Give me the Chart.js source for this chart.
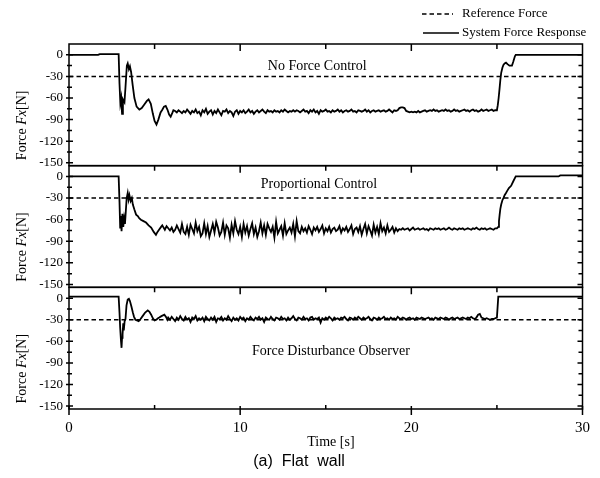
<!DOCTYPE html>
<html>
<head>
<meta charset="utf-8">
<title>Force response - flat wall</title>
<script src="https://cdn.jsdelivr.net/npm/chart.js@4.4.0/dist/chart.umd.min.js"></script>
<style>
  html, body { margin:0; padding:0; background:#fff; }
  #wrap { width:600px; height:478px; position:relative; }
</style>
</head>
<body>
<div id="wrap"><canvas id="forceChart" width="600" height="478"></canvas></div>
<script>
// ── AXES ──────────────────────────────────────────────────
const timeTicks  = [0, 10, 20, 30];
const timeMinor  = [5, 15, 25];
const forceTicks = [0, -30, -60, -90, -120, -150];
const forceMinor = [-15, -45, -75, -105, -135];
const refForce   = -30;
const sampleDt   = 0.1;   // steady-state records are sampled every 0.1 s

// ── NO FORCE CONTROL ──────────────────────────────────────
const noCtrlContact = [[0,0],[1.7,0],[1.8,1],[2.9,1],[2.95,-40],[3.0,-67],[3.05,-60],[3.1,-82],[3.15,-62],
  [3.24,-66],[3.3,-45],[3.38,-15],[3.43,-12],[3.5,-20],[3.56,-16],[3.63,-24],[3.72,-42],[3.82,-60],
  [3.95,-72],[4.11,-76],[4.25,-74],[4.4,-69],[4.55,-64],[4.65,-62],[4.78,-68],[4.9,-82],[5.0,-92],
  [5.11,-97],[5.22,-90],[5.35,-80],[5.46,-76],[5.55,-72],[5.65,-71],[5.75,-76],[5.85,-83],[5.94,-86],
  [6.05,-80],[6.1,-77]];
const noCtrlHoldStart = 6.2;
const noCtrlHold = [
  -78,-80,-77,-79,-81,-78,-80,-76,-79,-82,  -78,-80,-76,-81,-79,-84,-77,-80,-75,-82,
  -79,-77,-83,-78,-81,-76,-80,-84,-78,-79,  -76,-81,-78,-80,-85,-79,-77,-82,-78,-80,
  -77,-81,-79,-76,-80,-78,-82,-79,-77,-80,  -78,-76,-79,-81,-77,-79,-78,-80,-77,-79,
  -78,-80,-77,-79,-76,-78,-80,-78,-79,-77,  -79,-77,-78,-80,-78,-76,-79,-78,-81,-77,
  -79,-76,-80,-78,-82,-77,-79,-78,-76,-79,  -78,-80,-77,-79,-78,-76,-79,-77,-80,-78,
  -77,-79,-78,-76,-79,-78,-80,-77,-78,-79,  -78,-76,-79,-77,-80,-78,-77,-79,-78,-77,
  -79,-78,-77,-79,-78,-76,-78,-80,-77,-78,  -77,-74,-73,-73,-74,-78,-79,-80,-79,-80,
  -79,-80,-78,-80,-79,-78,-77,-79,-78,-77,  -78,-76,-78,-77,-79,-78,-77,-78,-76,-78,
  -77,-79,-78,-76,-78,-77,-79,-78,-77,-76,  -78,-77,-79,-77,-76,-78,-77,-79,-78,-76,
  -78,-77,-76,-78,-77,-76,-78,-77,-77];
const noCtrlRelease = [[25.05,-70],[25.1,-60],[25.15,-48],[25.2,-35],[25.25,-25],[25.32,-18],[25.38,-14],
  [25.45,-12],[25.53,-11],[25.62,-13],[25.73,-15],[25.88,-15],[25.95,-10],[26.05,-2],[26.1,0],[30,0]];

// ── PROPORTIONAL CONTROL ──────────────────────────────────
const propContact = [[0,0],[2.9,0],[2.95,-35],[2.99,-71],[3.03,-55],[3.07,-76],[3.12,-52],[3.17,-70],
  [3.22,-58],[3.27,-66],[3.32,-48],[3.37,-30],[3.43,-23],[3.48,-32],[3.53,-26],[3.6,-34],[3.67,-30],
  [3.73,-39],[3.82,-46],[3.92,-53],[4.02,-55],[4.1,-58],[4.2,-60],[4.35,-62],[4.5,-64],[4.65,-68],
  [4.8,-71],[4.95,-77],[5.08,-81],[5.17,-77],[5.26,-74],[5.38,-70],[5.45,-68]];
const propHoldStart = 5.5;
const propHold = [
  -70,-74,-69,-72,-75,-71,-77,-74,-68,-73,  -78,-66,-77,-80,-70,-81,-67,-73,-79,-64,
  -76,-70,-83,-79,-65,-80,-69,-84,-75,-66,  -78,-63,-71,-82,-77,-64,-81,-68,-72,-85,
  -67,-79,-62,-74,-80,-70,-84,-66,-78,-69,  -82,-73,-65,-80,-71,-84,-76,-64,-79,-68,
  -81,-66,-72,-77,-70,-85,-63,-79,-74,-69,  -82,-65,-80,-75,-71,-78,-66,-83,-62,-76,
  -79,-70,-76,-72,-78,-69,-74,-80,-71,-75,  -70,-77,-73,-68,-79,-72,-76,-70,-78,-73,
  -71,-76,-74,-69,-78,-72,-75,-70,-77,-73,  -68,-80,-73,-71,-77,-69,-81,-73,-66,-79,
  -69,-75,-82,-67,-78,-70,-80,-65,-76,-71,  -79,-68,-77,-74,-70,-78,-72,-76,-73,-74,
  -72,-74,-73,-72,-75,-73,-71,-74,-73,-72,  -74,-73,-72,-74,-73,-75,-72,-73,-74,-72,
  -73,-72,-74,-73,-72,-74,-73,-71,-73,-74,  -72,-73,-74,-72,-73,-72,-74,-73,-72,-73,
  -74,-72,-73,-71,-73,-74,-72,-73,-72,-74,  -73,-72,-73,-74,-72,-72];
const propRelease = [[25.08,-70],[25.12,-62],[25.16,-53],[25.2,-45],[25.25,-39],[25.32,-33],[25.38,-30],
  [25.45,-26],[25.53,-23],[25.6,-20],[25.7,-16],[25.83,-13],[25.95,-7],[26.1,0],[28.6,0],[28.7,1.5],[30,1.5]];

// ── FORCE DISTURBANCE OBSERVER ────────────────────────────
const dobContact = [[0,2],[2.9,2],[2.95,-20],[2.99,-41],[3.04,-60],[3.07,-69],[3.1,-55],[3.13,-50],
  [3.17,-35],[3.2,-45],[3.25,-32],[3.3,-29],[3.36,-10],[3.43,-2],[3.5,-1],[3.56,-4],[3.65,-12],
  [3.73,-20],[3.8,-26],[3.88,-30],[3.97,-31],[4.07,-32],[4.18,-29],[4.3,-25],[4.45,-20],[4.6,-17],
  [4.7,-19],[4.8,-23],[4.9,-28],[5.0,-31],[5.1,-30],[5.2,-28],[5.27,-27],[5.4,-25],[5.57,-23],
  [5.66,-26],[5.76,-30]];
const dobHoldStart = 5.8;
const dobHold = [
  -27,-30,-26,-29,-32,-27,-30,-25,-29,-31,  -26,-30,-28,-33,-27,-29,-25,-31,-28,-30,
  -27,-32,-26,-29,-31,-27,-30,-26,-33,-28,  -29,-26,-31,-28,-30,-25,-29,-32,-27,-30,
  -28,-31,-26,-29,-27,-32,-28,-30,-26,-29,  -31,-27,-29,-26,-30,-28,-33,-27,-29,-30,
  -26,-29,-31,-27,-28,-30,-26,-29,-28,-31,  -27,-30,-28,-25,-29,-31,-27,-28,-30,-26,
  -29,-28,-31,-27,-26,-30,-28,-29,-27,-34,  -28,-30,-27,-29,-26,-28,-31,-27,-29,-28,
  -30,-27,-28,-26,-29,-31,-27,-28,-30,-27,  -29,-26,-28,-30,-27,-29,-28,-26,-29,-31,
  -27,-28,-30,-27,-29,-28,-26,-29,-28,-30,  -27,-29,-28,-30,-26,-28,-29,-27,-28,-30,
  -28,-27,-29,-28,-30,-27,-28,-29,-27,-28,  -29,-28,-27,-29,-28,-30,-27,-28,-29,-27,
  -28,-29,-27,-28,-30,-28,-27,-29,-28,-27,  -29,-28,-27,-28,-29,-27,-28,-26,-28,-29,
  -27,-23,-22,-27,-28,-29,-28,-29,-30,-29,  -29,-28];
const dobRelease = [[25.0,-27],[25.08,2],[30,2]];

// panel captions, placed in data units of each panel
const panelNotes = [
  { axis: 'yNone', text: 'No Force Control',           t: 14.5, f: -16.5 },
  { axis: 'yProp', text: 'Proportional Control',       t: 14.6, f: -11 },
  { axis: 'yDob',  text: 'Force Disturbance Observer', t: 15.3, f: -74 },
];

function buildSeries(head, t0, hold, tail) {
  const pts = head.map(([x, y]) => ({ x, y }));
  hold.forEach((y, i) => pts.push({ x: t0 + i * sampleDt, y }));
  tail.forEach(([x, y]) => pts.push({ x, y }));
  return pts;
}

const refLine = [{ x: 0, y: refForce }, { x: 30, y: refForce }];
const SERIF = '"Liberation Serif", "Times New Roman", serif';

function response(data, axis) {
  return { data, yAxisID: axis, borderColor: '#000', borderWidth: 1.8, pointRadius: 0, tension: 0 };
}
function reference(axis) {
  return { data: refLine, yAxisID: axis, borderColor: '#000', borderWidth: 1.5, borderDash: [4.5, 3],
           pointRadius: 0, tension: 0 };
}

function forceAxis(order) {
  return {
    type: 'linear', position: 'left', stack: 'force', stackWeight: 1, weight: order,
    min: -154, max: 15,
    afterBuildTicks: s => { s.ticks = forceTicks.map(v => ({ value: v })); },
    afterFit: s => { s.width = 69; },
    grid: { display: false, drawTicks: false },
    border: { display: false },
    ticks: { font: { family: SERIF, size: 13 }, color: '#000', padding: 6, autoSkip: false },
  };
}

// ── FRAMES, INWARD TICKS AND TEXT ─────────────────────────
const framePlugin = {
  id: 'panelFrame',
  afterDraw(chart) {
    const { ctx, chartArea: area, scales } = chart;
    const xs = scales.x;
    ctx.save();
    ctx.strokeStyle = '#000';
    ctx.fillStyle = '#000';
    ctx.lineWidth = 1.5;

    ['yNone', 'yProp', 'yDob'].forEach(id => {
      const ys = scales[id];
      ctx.strokeRect(area.left, ys.top, area.right - area.left, ys.bottom - ys.top);
      ctx.beginPath();
      forceTicks.concat(forceMinor).forEach(v => {
        const py = ys.getPixelForValue(v);
        const major = forceTicks.includes(v);
        ctx.moveTo(area.left - (major ? 3 : 2), py);
        ctx.lineTo(area.left + (major ? 4 : 3), py);
        ctx.moveTo(area.right, py);
        ctx.lineTo(area.right - (major ? 5 : 4), py);
      });
      timeTicks.concat(timeMinor).forEach(t => {
        if (t === 0 || t === 30) return;
        const px = xs.getPixelForValue(t);
        ctx.moveTo(px, ys.top);
        ctx.lineTo(px, ys.top + (timeTicks.includes(t) ? 7 : 5));
      });
      ctx.stroke();
    });

    // bottom time axis: major ticks outward, minor inward
    ctx.beginPath();
    timeTicks.concat(timeMinor).forEach(t => {
      const px = xs.getPixelForValue(t);
      if (timeTicks.includes(t)) { ctx.moveTo(px, area.bottom - 3); ctx.lineTo(px, area.bottom + 6); }
      else { ctx.moveTo(px, area.bottom); ctx.lineTo(px, area.bottom - 4); }
    });
    ctx.stroke();

    // panel captions
    ctx.font = '14px ' + SERIF;
    ctx.textAlign = 'center';
    ctx.textBaseline = 'middle';
    panelNotes.forEach(n => {
      ctx.fillText(n.text, xs.getPixelForValue(n.t), scales[n.axis].getPixelForValue(n.f));
    });

    // y titles: Force Fx[N], with Fx in italic
    ['yNone', 'yProp', 'yDob'].forEach(id => {
      const cy = scales[id].getPixelForValue(-98);
      const parts = [['Force ', ''], ['Fx', 'italic '], ['[N]', '']];
      let total = 0;
      parts.forEach(p => { ctx.font = p[1] + '14px ' + SERIF; total += ctx.measureText(p[0]).width; });
      ctx.save();
      ctx.translate(22, cy);
      ctx.rotate(-Math.PI / 2);
      ctx.textAlign = 'left';
      let x = -total / 2;
      parts.forEach(p => {
        ctx.font = p[1] + '14px ' + SERIF;
        ctx.fillText(p[0], x, 0);
        x += ctx.measureText(p[0]).width;
      });
      ctx.restore();
    });

    // x title and figure caption
    ctx.textAlign = 'center';
    ctx.font = '14px ' + SERIF;
    ctx.fillText('Time [s]', xs.getPixelForValue(15.3), 442);
    ctx.font = '16px "Liberation Sans", Arial, sans-serif';
    ctx.fillText('(a)  Flat  wall', 299, 462);

    // legend, top right
    ctx.font = '13px ' + SERIF;
    ctx.textAlign = 'left';
    ctx.beginPath();
    ctx.setLineDash([4.5, 3]);
    ctx.moveTo(422, 14); ctx.lineTo(453, 14);
    ctx.stroke();
    ctx.setLineDash([]);
    ctx.beginPath();
    ctx.moveTo(423, 33); ctx.lineTo(459, 33);
    ctx.stroke();
    ctx.fillText('Reference Force', 462, 14);
    ctx.fillText('System Force Response', 462, 33);
    ctx.restore();
  }
};

new Chart(document.getElementById('forceChart').getContext('2d'), {
  type: 'line',
  data: {
    datasets: [
      response(buildSeries(noCtrlContact, noCtrlHoldStart, noCtrlHold, noCtrlRelease), 'yNone'),
      reference('yNone'),
      response(buildSeries(propContact, propHoldStart, propHold, propRelease), 'yProp'),
      reference('yProp'),
      response(buildSeries(dobContact, dobHoldStart, dobHold, dobRelease), 'yDob'),
      reference('yDob'),
    ]
  },
  options: {
    responsive: false,
    animation: false,
    events: [],
    layout: { padding: { top: 44, right: 13, bottom: 0, left: 0 } },
    plugins: { legend: { display: false }, tooltip: { enabled: false } },
    scales: {
      x: {
        type: 'linear', min: 0, max: 30,
        afterBuildTicks: s => { s.ticks = timeTicks.map(v => ({ value: v })); },
        afterFit: s => { s.height = 69; },
        grid: { display: false, drawTicks: false },
        border: { display: false },
        ticks: { font: { family: SERIF, size: 15 }, color: '#000', padding: 10, maxRotation: 0 },
      },
      yNone: forceAxis(3),
      yProp: forceAxis(2),
      yDob:  forceAxis(1),
    }
  },
  plugins: [framePlugin]
});
</script>
</body>
</html>
